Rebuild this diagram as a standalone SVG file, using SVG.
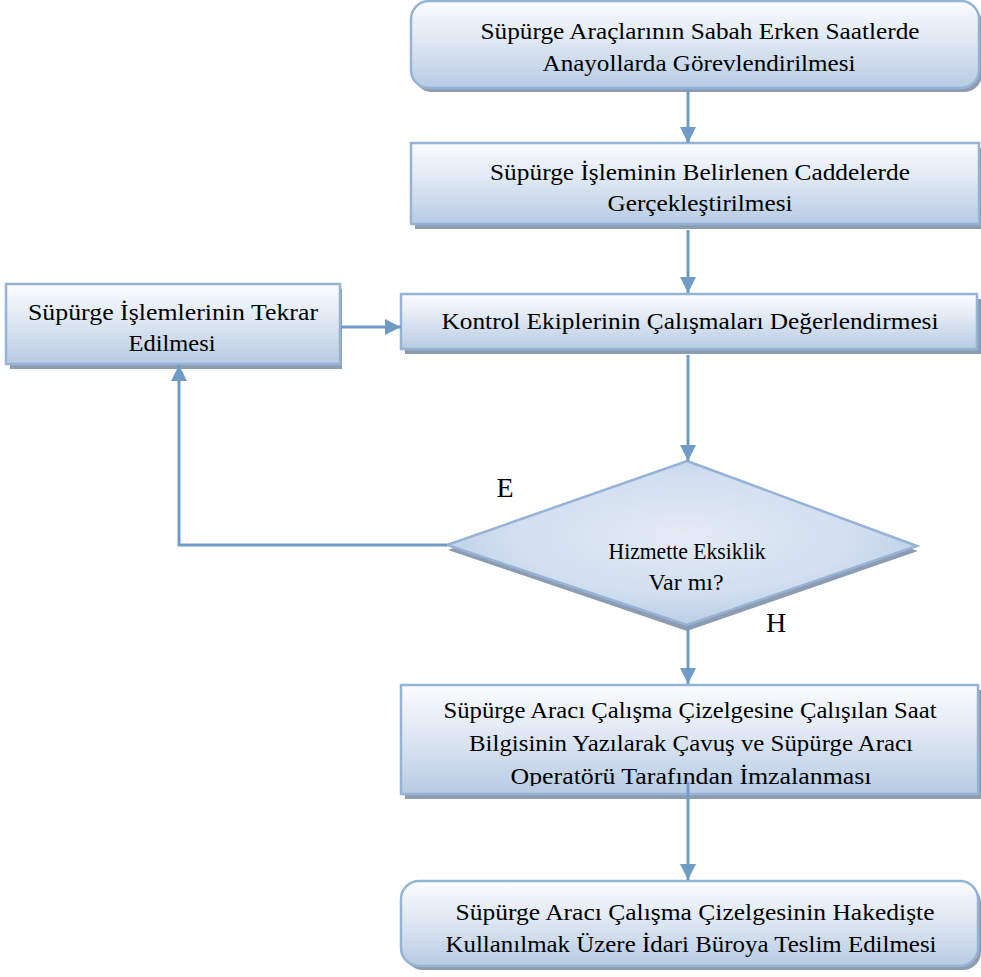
<svg xmlns="http://www.w3.org/2000/svg" width="981" height="977" viewBox="0 0 981 977">
<defs>
<linearGradient id="boxg" x1="0" y1="0" x2="0" y2="1">
<stop offset="0" stop-color="#fbfcfe"/>
<stop offset="0.45" stop-color="#dfe8f3"/>
<stop offset="1" stop-color="#b7cbe3"/>
</linearGradient>
<radialGradient id="diag" cx="0.5" cy="0.45" r="0.6">
<stop offset="0" stop-color="#e3ebf5"/>
<stop offset="0.6" stop-color="#d2dff0"/>
<stop offset="1" stop-color="#b5c9e2"/>
</radialGradient>
<marker id="ah" markerUnits="userSpaceOnUse" markerWidth="18" markerHeight="18" viewBox="0 0 18 18" refX="16" refY="9" orient="auto">
<path d="M0,1 L16,9 L0,17 Z" fill="#6f9cc7"/>
</marker>
<clipPath id="clip4"><rect x="401" y="685" width="580" height="101"/></clipPath>
</defs>
<style>
.box{fill:url(#boxg);stroke:#95b3d7;stroke-width:2.5}
.shd{fill:#8d9cb0}
.t{font-family:"Liberation Serif","Times New Roman",serif;font-size:23px;fill:#000;text-anchor:middle}
.lbl{font-family:"Liberation Serif","Times New Roman",serif;font-size:28px;fill:#000;text-anchor:middle}
.con{fill:none;stroke:#6f9cc7;stroke-width:3;marker-end:url(#ah)}
</style>

<g id="n1">
<rect class="shd" x="414" y="5" width="568" height="87" rx="18"/>
<rect class="box" x="411" y="1" width="568" height="87" rx="18"/>
<text class="t" x="700" y="39" textLength="439" lengthAdjust="spacingAndGlyphs">Süpürge Araçlarının Sabah Erken Saatlerde</text>
<text class="t" x="699" y="71" textLength="313" lengthAdjust="spacingAndGlyphs">Anayollarda Görevlendirilmesi</text>
</g>

<g id="n2">
<rect class="shd" x="415" y="148" width="568" height="81"/>
<rect class="box" x="411" y="143" width="568" height="81"/>
<text class="t" x="700" y="180" textLength="420" lengthAdjust="spacingAndGlyphs">Süpürge İşleminin Belirlenen Caddelerde</text>
<text class="t" x="700" y="211" textLength="185" lengthAdjust="spacingAndGlyphs">Gerçekleştirilmesi</text>
</g>

<g id="n3">
<rect class="shd" x="405" y="299" width="576" height="55"/>
<rect class="box" x="401" y="294" width="576" height="55"/>
<text class="t" x="690" y="329" textLength="497" lengthAdjust="spacingAndGlyphs">Kontrol Ekiplerinin Çalışmaları Değerlendirmesi</text>
</g>

<g id="n_left">
<rect class="shd" x="10" y="289" width="332" height="80"/>
<rect class="box" x="6" y="284" width="334" height="80"/>
<text class="t" x="173" y="320" textLength="290" lengthAdjust="spacingAndGlyphs">Süpürge İşlemlerinin Tekrar</text>
<text class="t" x="172" y="351" textLength="87" lengthAdjust="spacingAndGlyphs">Edilmesi</text>
</g>

<g id="n_dec">
<polygon points="687,465 918,551 687,631 448,550" fill="#8d9cb0"/>
<polygon points="687,461 917,546 687,625 447,545" fill="url(#diag)" stroke="#95b3d7" stroke-width="2.5"/>
<text class="t" x="687" y="559" textLength="157" lengthAdjust="spacingAndGlyphs">Hizmette Eksiklik</text>
<text class="t" x="686" y="590" textLength="75" lengthAdjust="spacingAndGlyphs">Var mı?</text>
</g>

<g id="n4">
<rect class="shd" x="405" y="690" width="577" height="109"/>
<rect class="box" x="401" y="685" width="577" height="109"/>
<g clip-path="url(#clip4)">
<text class="t" x="690" y="718" textLength="493" lengthAdjust="spacingAndGlyphs">Süpürge Aracı Çalışma Çizelgesine Çalışılan Saat</text>
<text class="t" x="691" y="751" textLength="444" lengthAdjust="spacingAndGlyphs">Bilgisinin Yazılarak Çavuş ve Süpürge Aracı</text>
<text class="t" x="691" y="784" textLength="361" lengthAdjust="spacingAndGlyphs">Operatörü Tarafından İmzalanması</text>
</g>
</g>

<g id="n5">
<rect class="shd" x="405" y="885" width="576" height="85" rx="18"/>
<rect class="box" x="401" y="881" width="577" height="85" rx="18"/>
<text class="t" x="695" y="920" textLength="479" lengthAdjust="spacingAndGlyphs">Süpürge Aracı Çalışma Çizelgesinin Hakedişte</text>
<text class="t" x="691" y="952" textLength="491" lengthAdjust="spacingAndGlyphs">Kullanılmak Üzere İdari Büroya Teslim Edilmesi</text>
</g>

<g id="labels">
<text class="lbl" x="505" y="497">E</text>
<text class="lbl" x="776" y="632">H</text>
</g>

<g id="connectors">
<path class="con" d="M688,90 V143"/>
<path class="con" d="M688,230 V293"/>
<path class="con" d="M688,355 V461"/>
<path class="con" d="M447,545 H179 V365"/>
<path class="con" d="M341,327 H401"/>
<path class="con" d="M688,627 V684"/>
<path class="con" d="M688,782 V880"/>
</g>
</svg>
